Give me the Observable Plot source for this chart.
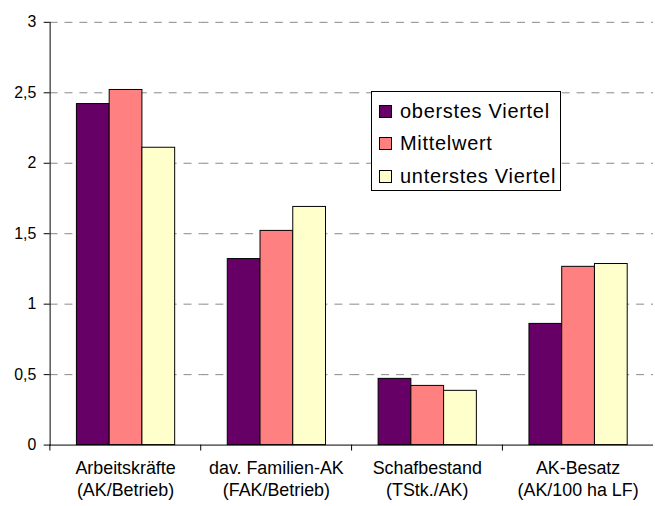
<!DOCTYPE html>
<html><head><meta charset="utf-8">
<script src="https://cdn.jsdelivr.net/npm/d3@7"></script>
<script src="https://cdn.jsdelivr.net/npm/@observablehq/plot@0.6"></script>
<style>
body{margin:0;overflow:hidden;background:#fff;font-family:"Liberation Sans",Arial,sans-serif;}
#wrap{position:relative;width:655px;height:506px;overflow:hidden;background:#fff;}
#legend{position:absolute;left:371px;top:91px;width:188px;height:98px;border:1px solid #000;background:#fff;box-sizing:content-box;}
.row{position:absolute;left:7px;height:20px;display:flex;align-items:center;font-size:20px;letter-spacing:0.7px;color:#000;white-space:nowrap;}
.sw{width:11px;height:11px;border:1px solid #000;margin-right:8px;flex:none;}
</style></head>
<body>
<div id="wrap"><div id="chart"></div><div id="legend"></div></div>
<script>
const categories = ["Arbeitskräfte\n(AK/Betrieb)", "dav. Familien-AK\n(FAK/Betrieb)", "Schafbestand\n(TStk./AK)", "AK-Besatz\n(AK/100 ha LF)"];
const series = ["oberstes Viertel", "Mittelwert", "unterstes Viertel"];
const oberstesViertel = [2.42, 1.32, 0.47, 0.86];
const mittelwert = [2.52, 1.52, 0.42, 1.265];
const unterstesViertel = [2.11, 1.69, 0.385, 1.285];
const colors = ["#660066", "#FF8080", "#FFFFCC"];
const yTicks = [0, 0.5, 1, 1.5, 2, 2.5, 3];

const seriesValues = [oberstesViertel, mittelwert, unterstesViertel];
const data = [];
categories.forEach((c, i) => series.forEach((s, j) => data.push({cat: c, series: s, value: seriesValues[j][i]})));

const W = 660, ml = 49, mr = 1;
const bandW = (W - ml - mr) / categories.length;
const fmt = d => String(d).replace(".", ",");

const chart = Plot.plot({
  width: W, height: 506,
  marginLeft: ml, marginRight: mr, marginTop: 22, marginBottom: 58,
  style: {fontFamily: "'Liberation Sans', Arial, sans-serif", fontSize: "16px", background: "#fff", color: "#000"},
  fx: {domain: categories, padding: 0, label: null},
  x: {domain: series, paddingInner: 0, paddingOuter: 0.74, axis: null},
  y: {domain: [0, 3], label: null},
  color: {domain: series, range: colors},
  marks: [
    Plot.gridY(yTicks.filter(d => d > 0), {stroke: "#888", strokeOpacity: 1, strokeDasharray: "8,7"}),
    Plot.barY(data, {fx: "cat", x: "series", y: "value", fill: "series", stroke: "#000", strokeWidth: 1}),
    Plot.ruleY([0], {stroke: "#000"}),
    Plot.frame({anchor: "left", facetAnchor: "left", stroke: "#000"}),
    Plot.axisY(yTicks, {tickSize: 6, tickPadding: 8, tickFormat: fmt, fontSize: 16, label: null}),
    Plot.axisFx({anchor: "bottom", tickSize: 0, tickPadding: 14, fontSize: 18, lineHeight: 1.2, label: null}),
    Plot.axisFx({anchor: "bottom", tickSize: 6, stroke: "#000", tickFormat: () => "", dx: -bandW / 2, label: null})
  ]
});
document.getElementById("chart").appendChild(chart);

const legend = document.getElementById("legend");
series.forEach((s, i) => {
  const row = document.createElement("div");
  row.className = "row";
  row.style.top = (9 + i * 32.5) + "px";
  const sw = document.createElement("span");
  sw.className = "sw";
  sw.style.background = colors[i];
  row.appendChild(sw);
  row.appendChild(document.createTextNode(s));
  legend.appendChild(row);
});
</script>
</body></html>
